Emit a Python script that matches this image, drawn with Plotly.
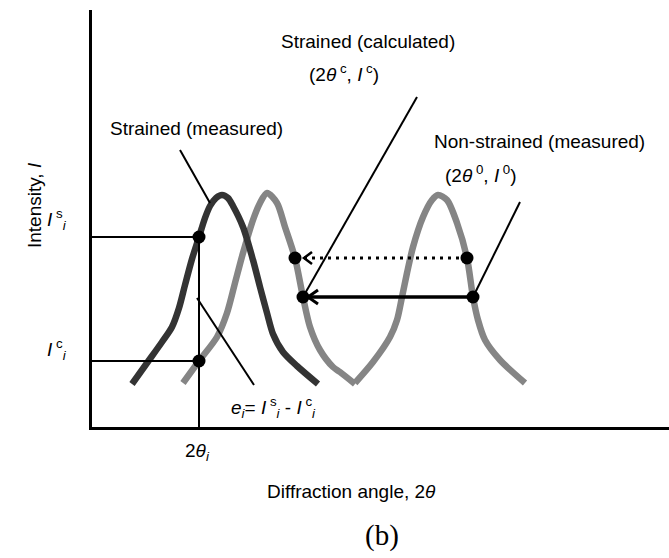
import plotly.graph_objects as go

# ---------------- data (chart units: x = 2θ, y = intensity, arbitrary) ----------------
strained_meas_x = [40, 55, 70, 80, 87, 93, 100, 107, 113, 118, 124, 130, 136, 141, 151, 161, 168, 175, 181, 191, 205, 226]
strained_meas_y = [43, 64, 85, 100, 119, 142, 168, 190, 209, 221, 229, 232, 229, 221, 200, 167, 140, 114, 93, 75, 61, 43]

strained_calc_x = [91, 107, 125, 135, 143, 151, 161, 168, 175, 185, 193, 203, 211, 218, 228, 241, 248, 263]
strained_calc_y = [44, 66, 90, 114, 144, 174, 207, 224, 234, 224, 200, 169, 130, 100, 77, 60, 55, 43]

nonstrained_x = [263, 281, 298, 305, 310, 315, 321, 331, 340, 346, 355, 365, 375, 381, 386, 393, 408, 433]
nonstrained_y = [44, 65, 90, 107, 130, 154, 180, 210, 227, 232, 227, 204, 169, 130, 107, 87, 67, 44]

# sample position 2θ_i and the two intensities read there
two_theta_i = 107
I_s_i = 190
I_c_i = 66

# arrows: (from non-strained point) -> (to calculated point)
arrow_dotted = {"x0": 375, "x1": 203, "y": 169}
arrow_solid = {"x0": 381, "x1": 211, "y": 130}

# leader lines [x0, x1], [y0, y1]
leader_meas = ([88, 118], [277, 224])
leader_calc = ([325, 211], [330, 130])
leader_non = ([428, 381], [225, 130])
leader_err = ([105, 162], [129, 42])

X_RANGE = [0, 577]
Y_RANGE = [0, 417]

FONT = "Liberation Sans, Arial, sans-serif"
SERIF = "Liberation Serif, Times New Roman, serif"

fig = go.Figure()

GRAY = "#858585"
DARK = "#333333"

fig.add_trace(go.Scatter(x=strained_calc_x, y=strained_calc_y, mode="lines",
                         line=dict(color=GRAY, width=6.5, shape="spline", smoothing=0.8)))
fig.add_trace(go.Scatter(x=nonstrained_x, y=nonstrained_y, mode="lines",
                         line=dict(color=GRAY, width=6.5, shape="spline", smoothing=0.8)))
fig.add_trace(go.Scatter(x=strained_meas_x, y=strained_meas_y, mode="lines",
                         line=dict(color=DARK, width=6.5, shape="spline", smoothing=0.8)))

thin = dict(color="black", width=2)
# guide lines to axes
fig.add_trace(go.Scatter(x=[X_RANGE[0], two_theta_i], y=[I_s_i, I_s_i], mode="lines", line=thin))
fig.add_trace(go.Scatter(x=[X_RANGE[0], two_theta_i], y=[I_c_i, I_c_i], mode="lines", line=thin))
fig.add_trace(go.Scatter(x=[two_theta_i, two_theta_i], y=[Y_RANGE[0], I_s_i], mode="lines", line=thin))

# leader lines
for lx, ly in (leader_meas, leader_calc, leader_non, leader_err):
    fig.add_trace(go.Scatter(x=lx, y=ly, mode="lines", line=thin))

# arrows
fig.add_trace(go.Scatter(x=[arrow_dotted["x0"], arrow_dotted["x1"]], y=[arrow_dotted["y"]] * 2,
                         mode="lines", line=dict(color="black", width=3, dash="3px,5px")))
fig.add_trace(go.Scatter(x=[arrow_solid["x0"], arrow_solid["x1"]], y=[arrow_solid["y"]] * 2,
                         mode="lines", line=dict(color="black", width=3.5)))


def chevron(tip_x, tip_y, gap, length, half):
    tx = tip_x + gap
    return [tx + length, tx, tx + length], [tip_y + half, tip_y, tip_y - half]


cx, cy = chevron(arrow_dotted["x1"], arrow_dotted["y"], 9, 8, 6)
fig.add_trace(go.Scatter(x=cx, y=cy, mode="lines", line=dict(color="black", width=2.5)))
cx, cy = chevron(arrow_solid["x1"], arrow_solid["y"], 5, 10, 7)
fig.add_trace(go.Scatter(x=cx, y=cy, mode="lines", line=dict(color="black", width=3)))

# points
fig.add_trace(go.Scatter(
    x=[two_theta_i, two_theta_i, arrow_dotted["x0"], arrow_dotted["x1"], arrow_solid["x0"], arrow_solid["x1"]],
    y=[I_s_i, I_c_i, arrow_dotted["y"], arrow_dotted["y"], arrow_solid["y"], arrow_solid["y"]],
    mode="markers", marker=dict(color="black", size=13)))


# ---------------- text (placed in chart units, converted to paper so that
# labels outside the axes are still drawn) ----------------
def txt(x, y, text, size=19, family=FONT, **kw):
    px = (x - X_RANGE[0]) / (X_RANGE[1] - X_RANGE[0])
    py = (y - Y_RANGE[0]) / (Y_RANGE[1] - Y_RANGE[0])
    fig.add_annotation(x=px, y=py, xref="paper", yref="paper", text=text, showarrow=False,
                       xanchor="center", yanchor="middle",
                       font=dict(family=family, size=size, color="black"), **kw)


txt(276, 385, "Strained (calculated)")
txt(252, 354, "(2<i>θ</i><sup> c</sup>, <i>I</i><sup> c</sup>)")
txt(104, 299, "Strained (measured)")
txt(447, 286, "Non-strained (measured)")
txt(389, 253, "(2<i>θ</i><sup> 0</sup>, <i>I</i><sup> 0</sup>)")
txt(181, 20, "<i>e</i><sub><i>i</i></sub>= <i>I</i><sup> s</sup><sub><i>i</i></sub> - <i>I</i><sup> c</sup><sub><i>i</i></sub>")
txt(105, -25, "2<i>θ</i><sub><i>i</i></sub>")
txt(-35, 208, "<i>I</i><sup> s</sup><sub><i>i</i></sub>")
txt(-35, 78, "<i>I</i><sup> c</sup><sub><i>i</i></sub>")
txt(-58, 222, "Intensity, <i>I</i>", textangle=-90)
txt(259, -65, "Diffraction angle, 2<i>θ</i>")
txt(290, -108, "(b)", size=29, family=SERIF)

axis_common = dict(showgrid=False, zeroline=False, showticklabels=False, ticks="",
                   showline=True, linecolor="black", linewidth=2.5, fixedrange=True)
fig.update_layout(
    width=669, height=558,
    margin=dict(l=92, r=0, t=10, b=131),
    paper_bgcolor="white", plot_bgcolor="white",
    showlegend=False,
    xaxis=dict(range=X_RANGE, **axis_common),
    yaxis=dict(range=Y_RANGE, **axis_common),
)

fig.write_html("out.html", config={"displayModeBar": False})
